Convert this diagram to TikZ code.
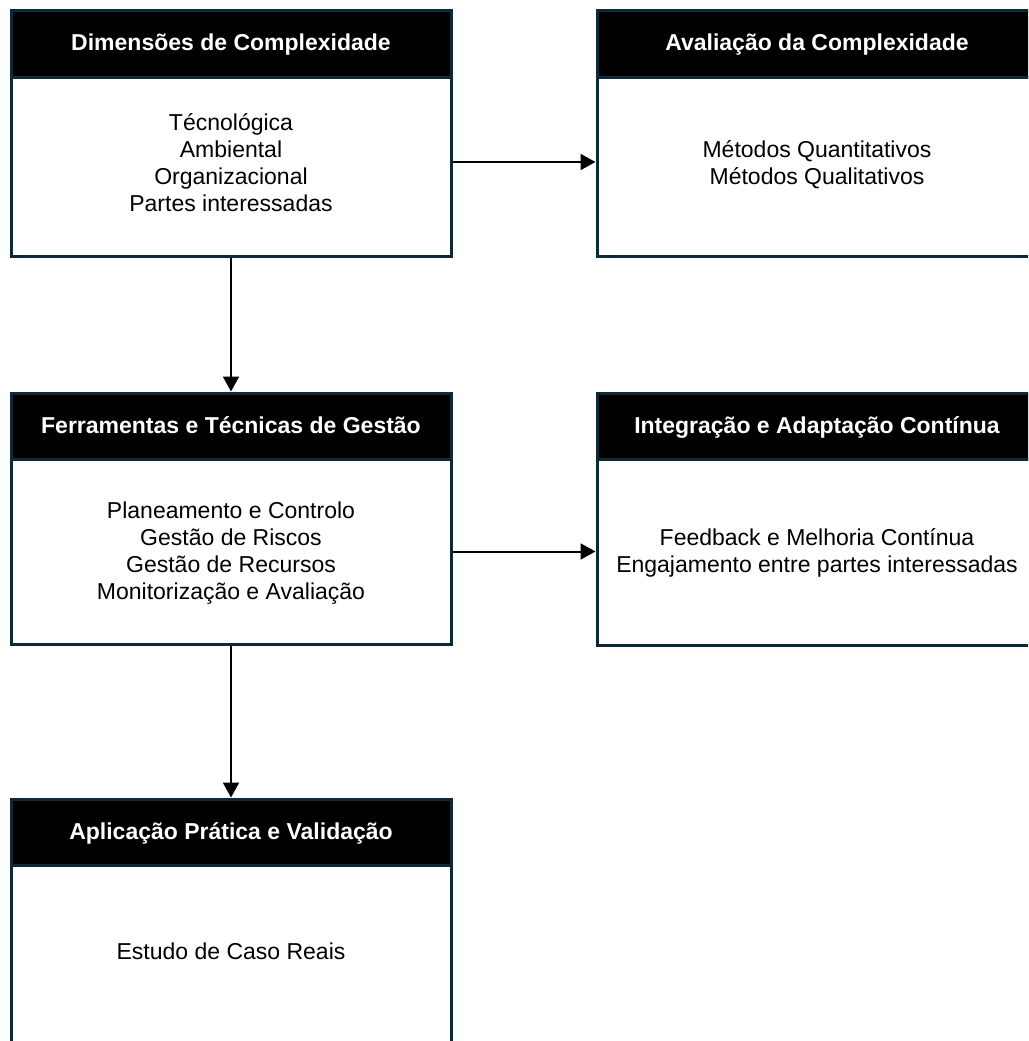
\documentclass[tikz,border=0pt]{standalone}
\usepackage{fontspec}
\setmainfont{Liberation Sans}
\usetikzlibrary{arrows.meta}
\definecolor{edgenavy}{HTML}{0D2837}
\tikzset{
  hdr/.style={draw=edgenavy, line width=3pt, fill=black, text=white,
    font=\fontsize{23}{27}\selectfont\bfseries, minimum width=440pt,
    minimum height=66pt, inner sep=0pt, align=center,
    text height=19pt, text depth=5pt},
  body/.style={draw=edgenavy, line width=3pt, fill=white, text=black,
    font=\fontsize{23}{27}\selectfont, minimum width=440pt,
    inner sep=0pt, align=center, text height=19pt, text depth=5pt},
  flow/.style={line width=2pt, -{Triangle[length=15pt,width=16pt]}}
}
\begin{document}
\begin{tikzpicture}[x=1pt,y=-1pt]
\useasboundingbox (0,0) rectangle (1028,1041);
\clip (0,0) rectangle (1028,1041);
% left column
\node[body, minimum height=179pt, text height=100pt, text depth=11pt] (dim) at (231,166.5)
  {Técnológica\\Ambiental\\Organizacional\\Partes interessadas};
\node[hdr] (dimH) at (231,44) {Dimensões de Complexidade};
\node[body, minimum height=185pt, text height=100pt] (fer) at (231,551.5)
  {Planeamento e Controlo\\Gestão de Riscos\\Gestão de Recursos\\Monitorização e Avaliação};
\node[hdr] (ferH) at (231,426) {Ferramentas e Técnicas de Gestão};
\node[body, minimum height=184pt, text depth=15pt] (apl) at (231,957)
  {Estudo de Caso Reais};
\node[hdr] (aplH) at (231,832) {Aplicação Prática e Validação};
% right column
\node[body, minimum height=179pt, text height=46pt, text depth=11pt] (ava) at (817,166.5)
  {Métodos Quantitativos\\Métodos Qualitativos};
\node[hdr] (avaH) at (817,44) {Avaliação da Complexidade};
\node[body, minimum height=186pt, text height=46pt] (int) at (817,552)
  {Feedback e Melhoria Contínua\\Engajamento entre partes interessadas};
\node[hdr] (intH) at (817,426) {Integração e Adaptação Contínua};
% connectors
\draw[flow] ([yshift=4.5pt]dim.east) -- ([yshift=4.5pt]dim.east -| ava.west);
\draw[flow] (dim.south) -- (ferH.north);
\draw[flow] (fer.east) -- (fer.east -| int.west);
\draw[flow] (fer.south) -- (aplH.north);
\end{tikzpicture}
\end{document}
